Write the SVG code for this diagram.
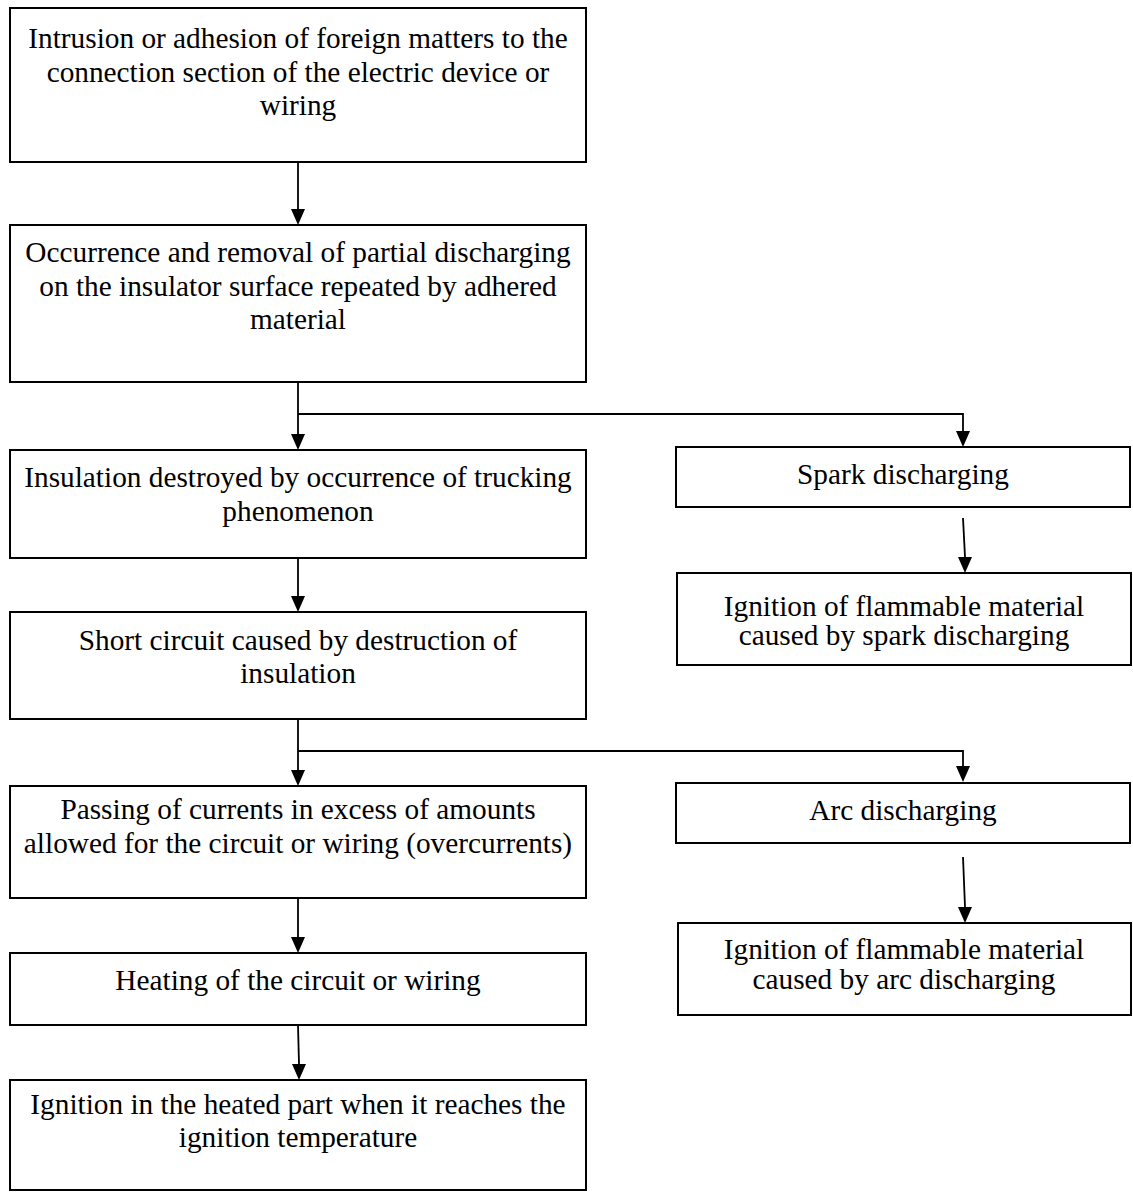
<svg xmlns="http://www.w3.org/2000/svg" width="1133" height="1192" viewBox="0 0 1133 1192">
<style>
rect.box { fill: #fff; stroke: #000; stroke-width: 2; }
text { font-family: "Liberation Serif", "Times New Roman", serif; font-size: 29.3px; fill: #000; text-anchor: middle; }
.line { fill: none; stroke: #000; stroke-width: 1.8; }
.head { fill: #000; stroke: none; }
</style>
<rect width="1133" height="1192" fill="#fff"/>
<g id="connectors">
<path class="line" d="M298,162 L298,209"/>
<path class="line" d="M298,382 L298,434"/>
<path class="line" d="M298,414 L963,414 L963,431"/>
<path class="line" d="M298,558 L298,596"/>
<path class="line" d="M298,719 L298,770"/>
<path class="line" d="M298,751 L963,751 L963,766"/>
<path class="line" d="M298,898 L298,937"/>
<path class="line" d="M298,1025 L299,1064"/>
<path class="line" d="M963,518 L965,557"/>
<path class="line" d="M963,857 L965,907"/>
<path class="head" d="M291,209 L305,209 L298,225 Z"/>
<path class="head" d="M291,434 L305,434 L298,450 Z"/>
<path class="head" d="M956,431 L970,431 L963,447 Z"/>
<path class="head" d="M291,596 L305,596 L298,612 Z"/>
<path class="head" d="M291,770 L305,770 L298,786 Z"/>
<path class="head" d="M956,766 L970,766 L963,782 Z"/>
<path class="head" d="M291,937 L305,937 L298,953 Z"/>
<path class="head" d="M292,1064 L306,1064 L299,1080 Z"/>
<path class="head" d="M958,557 L972,557 L965,573 Z"/>
<path class="head" d="M958,907 L972,907 L965,923 Z"/>
</g>
<g id="n1">
<rect class="box" x="10" y="8" width="576" height="154"/>
<text x="298" y="48">Intrusion or adhesion of foreign matters to the</text>
<text x="298" y="82">connection section of the electric device or</text>
<text x="298" y="115">wiring</text>
</g>
<g id="n2">
<rect class="box" x="10" y="225" width="576" height="157"/>
<text x="298" y="262">Occurrence and removal of partial discharging</text>
<text x="298" y="296">on the insulator surface repeated by adhered</text>
<text x="298" y="329">material</text>
</g>
<g id="n3">
<rect class="box" x="10" y="450" width="576" height="108"/>
<text x="298" y="487">Insulation destroyed by occurrence of trucking</text>
<text x="298" y="521">phenomenon</text>
</g>
<g id="n4">
<rect class="box" x="10" y="612" width="576" height="107"/>
<text x="298" y="650">Short circuit caused by destruction of</text>
<text x="298" y="683">insulation</text>
</g>
<g id="n5">
<rect class="box" x="10" y="786" width="576" height="112"/>
<text x="298" y="819">Passing of currents in excess of amounts</text>
<text x="298" y="853">allowed for the circuit or wiring (overcurrents)</text>
</g>
<g id="n6">
<rect class="box" x="10" y="953" width="576" height="72"/>
<text x="298" y="990">Heating of the circuit or wiring</text>
</g>
<g id="n7">
<rect class="box" x="10" y="1080" width="576" height="110"/>
<text x="298" y="1114">Ignition in the heated part when it reaches the</text>
<text x="298" y="1147">ignition temperature</text>
</g>
<g id="n8">
<rect class="box" x="676" y="447" width="454" height="60"/>
<text x="903" y="484">Spark discharging</text>
</g>
<g id="n9">
<rect class="box" x="677" y="573" width="454" height="92"/>
<text x="904" y="616">Ignition of flammable material</text>
<text x="904" y="645">caused by spark discharging</text>
</g>
<g id="n10">
<rect class="box" x="676" y="783" width="454" height="60"/>
<text x="903" y="820">Arc discharging</text>
</g>
<g id="n11">
<rect class="box" x="678" y="923" width="453" height="92"/>
<text x="904" y="959">Ignition of flammable material</text>
<text x="904" y="989">caused by arc discharging</text>
</g>
</svg>
